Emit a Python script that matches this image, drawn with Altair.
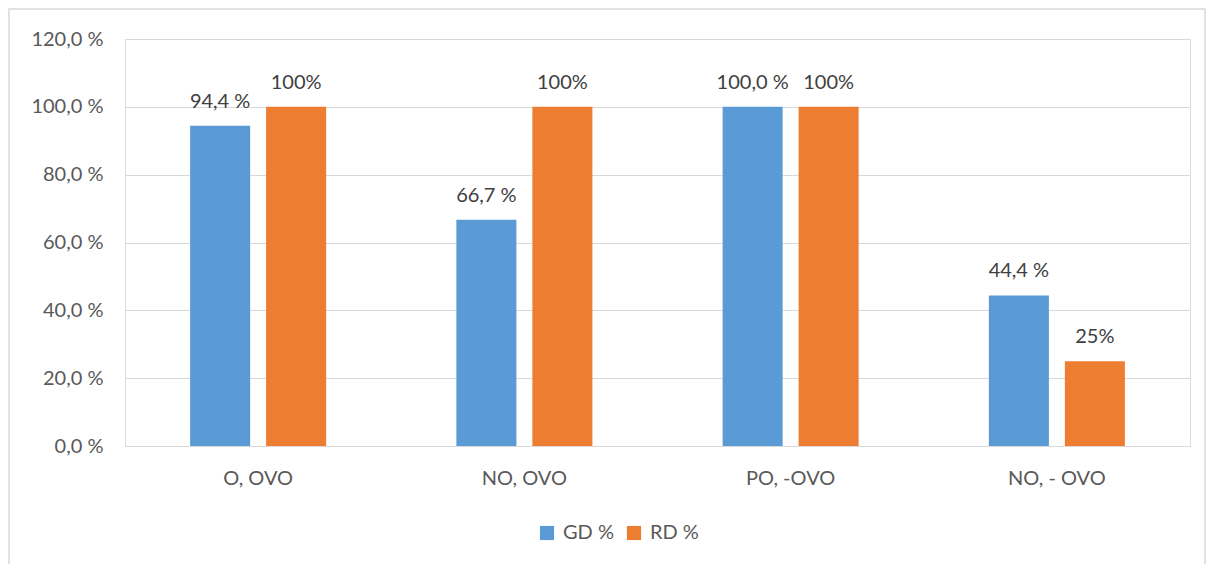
import altair as alt
import pandas as pd

categories = ["O, OVO", "NO, OVO", "PO, -OVO", "NO, - OVO"]
series = ["GD %", "RD %"]
gd_values = [94.4, 66.7, 100.0, 44.4]
rd_values = [100.0, 100.0, 100.0, 25.0]
gd_labels = ["94,4 %", "66,7 %", "100,0 %", "44,4 %"]
rd_labels = ["100%", "100%", "100%", "25%"]
colors = ["#5B9BD5", "#ED7D31"]

rows = []
for i, c in enumerate(categories):
    rows.append({"cat": c, "series": series[0], "value": gd_values[i], "label": gd_labels[i]})
    rows.append({"cat": c, "series": series[1], "value": rd_values[i], "label": rd_labels[i]})
df = pd.DataFrame(rows)

FONT = "Lato"
W, H = 1065, 407

x = alt.X("cat:N", sort=categories, title=None,
          scale=alt.Scale(paddingInner=0, paddingOuter=0),
          axis=alt.Axis(labelAngle=0, ticks=False, domain=True, domainColor="#D9D9D9",
                        labelPadding=22, labelFontSize=20, labelColor="#595959", labelFont=FONT))
xo = alt.XOffset("series:N", sort=series,
                 scale=alt.Scale(paddingInner=0.21, paddingOuter=0.857))
y = alt.Y("value:Q", title=None,
          scale=alt.Scale(domain=[0, 120]),
          axis=alt.Axis(values=[0, 20, 40, 60, 80, 100, 120], ticks=False, domain=False,
                        gridColor="#D9D9D9", labelPadding=22, labelFontSize=20,
                        labelColor="#595959", labelFont=FONT,
                        labelExpr="replace(format(datum.value, '.1f'), '.', ',') + ' %'"))

bars = alt.Chart(df).mark_bar().encode(
    x=x, xOffset=xo, y=y,
    color=alt.Color("series:N", sort=series, title=None,
                    scale=alt.Scale(domain=series, range=colors),
                    legend=alt.Legend(orient="none", legendX=412, legendY=484, direction="horizontal",
                                      symbolType="square", symbolSize=200, symbolStrokeWidth=0,
                                      labelFontSize=20, labelColor="#595959", labelFont=FONT,
                                      columnPadding=10, symbolOffset=0, labelOffset=6)),
)

texts = alt.Chart(df).mark_text(baseline="alphabetic", dy=-18, fontSize=20, color="#404040", font=FONT).encode(
    x=alt.X("cat:N", sort=categories), xOffset=xo, y="value:Q", text="label:N"
)

frame = alt.Chart(pd.DataFrame({"a": [0]})).mark_rect(fill=None, stroke="#D9D9D9", strokeWidth=1.5).encode(
    x=alt.value(-116), x2=alt.value(1080), y=alt.value(-30), y2=alt.value(620)
)

chart = alt.layer(frame, bars, texts).properties(
    width=W, height=H,
    padding={"left": 117, "top": 31, "right": 16, "bottom": 118},
    autosize=alt.AutoSizeParams(type="none"),
).configure_view(stroke=None).configure(font=FONT)

chart.save("out.html", embed_options={"renderer": "svg", "actions": False})
